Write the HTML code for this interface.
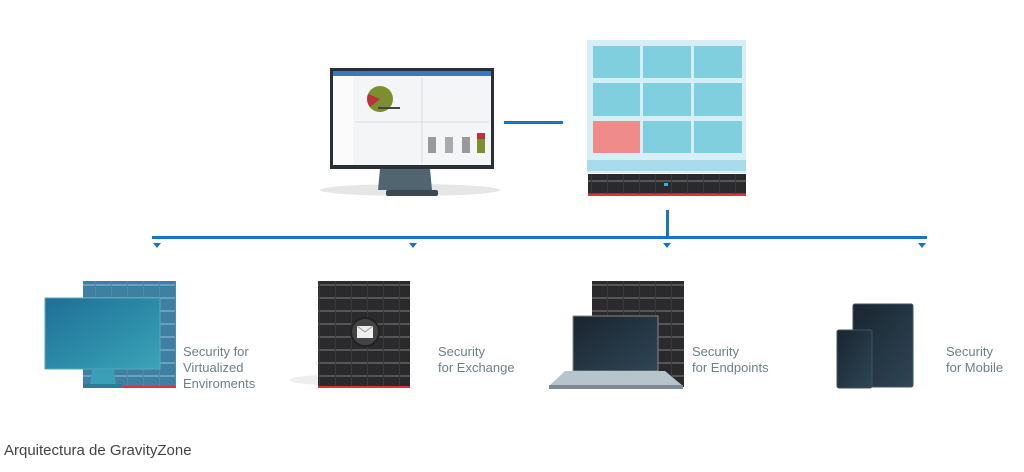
<!DOCTYPE html><html><head><style>
body{margin:0;width:1024px;height:472px;background:#fff;position:relative;overflow:hidden;font-family:"Liberation Sans",sans-serif}
.a{position:absolute}
.t{position:absolute;font-size:13px;line-height:16px;color:#6e7f8a}
</style></head><body>
<svg class="a" style="left:0;top:0" width="1024" height="472">
<defs>
<pattern id="rk" width="16" height="13" patternUnits="userSpaceOnUse"><rect width="16" height="13" fill="#2a2a2c"/><rect y="11" width="16" height="2" fill="#555"/><rect x="15" width="1" height="13" fill="#3a3a3c"/></pattern>
<pattern id="rb" width="16" height="13" patternUnits="userSpaceOnUse"><rect width="16" height="13" fill="#3f7fa2"/><rect y="11" width="16" height="2" fill="#6aa0bd"/><rect x="15" width="1" height="13" fill="#4d8aab"/></pattern>
<linearGradient id="sc" x1="0" y1="0" x2="1" y2="1"><stop offset="0" stop-color="#1a2530"/><stop offset="1" stop-color="#2e4555"/></linearGradient>
<linearGradient id="tl" x1="0" y1="0" x2="1" y2="1"><stop offset="0" stop-color="#1e6f96"/><stop offset="1" stop-color="#3aa4b8"/></linearGradient>
</defs>
<ellipse cx="410" cy="190" rx="90" ry="6" fill="#e6e6e6"/>
<rect x="330" y="68" width="164" height="101" fill="#2b3036"/>
<rect x="333" y="71" width="158" height="94" fill="#f4f5f6"/>
<rect x="333" y="71" width="158" height="5" fill="#3b78c0"/>
<rect x="333" y="76" width="20" height="89" fill="#fbfbfb"/>
<line x1="422" y1="78" x2="422" y2="163" stroke="#ddd"/><line x1="355" y1="122" x2="489" y2="122" stroke="#ddd"/>
<circle cx="380" cy="99" r="13" fill="#7a8f2e"/><path d="M380 99 L368 94 A13 13 0 0 0 370 107 Z" fill="#c0303a"/>
<rect x="378" y="107" width="22" height="2" fill="#444"/>
<rect x="428" y="137" width="8" height="16" fill="#999"/><rect x="445" y="137" width="8" height="16" fill="#aaa"/><rect x="462" y="137" width="8" height="16" fill="#999"/><rect x="477" y="133" width="8" height="20" fill="#7a8f2e"/><rect x="477" y="133" width="8" height="6" fill="#c0303a"/>
<path d="M380 169 L430 169 L432 190 L378 190 Z" fill="#506570"/>
<rect x="386" y="190" width="52" height="6" rx="2" fill="#3b4850"/>
<rect x="504" y="121" width="59" height="3" fill="#1a73c8"/>
<rect x="587" y="40" width="159" height="133" fill="#d7eef6"/>
<g fill="#7fcfdf">
<rect x="593" y="46" width="47" height="32"/><rect x="643" y="46" width="48" height="32"/><rect x="694" y="46" width="48" height="32"/>
<rect x="593" y="83" width="47" height="33"/><rect x="643" y="83" width="48" height="33"/><rect x="694" y="83" width="48" height="33"/>
<rect x="643" y="121" width="48" height="32"/><rect x="694" y="121" width="48" height="32"/></g>
<rect x="593" y="121" width="47" height="32" fill="#f08b8b"/>
<rect x="587" y="160" width="159" height="11" fill="#a8dcea"/>
<rect x="588" y="174" width="158" height="21" fill="url(#rk)"/>
<rect x="588" y="194" width="158" height="2" fill="#d33"/>
<rect x="664" y="183" width="4" height="3" fill="#3aaee0"/>
<rect x="666" y="210" width="3" height="27" fill="#1a73c8"/>
<rect x="152" y="236" width="775" height="3" fill="#1a73c8"/>
<g fill="#1a73c8"><path d="M153 243h8l-4 5z"/><path d="M409 243h8l-4 5z"/><path d="M663 243h8l-4 5z"/><path d="M918 243h8l-4 5z"/></g>
<rect x="83" y="281" width="93" height="106" fill="url(#rb)"/>
<rect x="83" y="386" width="93" height="2" fill="#d33"/>
<rect x="45" y="298" width="115" height="71" fill="url(#tl)" stroke="#5ab" />
<path d="M92 369h22l2 16h-26z" fill="#3aa0b5"/><rect x="84" y="384" width="38" height="4" fill="#2a7c95"/>
<ellipse cx="330" cy="380" rx="40" ry="5" fill="#eee"/>
<rect x="318" y="281" width="92" height="106" fill="url(#rk)"/>
<rect x="318" y="386" width="92" height="2" fill="#d33"/>
<circle cx="365" cy="332" r="14" fill="#444" stroke="#222" stroke-width="2"/>
<rect x="357" y="326" width="16" height="12" fill="#eee"/><path d="M357 326l8 6 8-6" fill="none" stroke="#999"/>
<rect x="592" y="281" width="92" height="106" fill="url(#rk)"/>
<rect x="573" y="316" width="85" height="55" fill="url(#sc)" stroke="#888"/>
<path d="M565 371h100l18 15h-134z" fill="#b8c4cc"/><rect x="549" y="385" width="134" height="4" fill="#7d8a93"/>
<rect x="853" y="304" width="60" height="83" rx="2" fill="url(#sc)" stroke="#3c5560"/>
<rect x="837" y="330" width="35" height="58" rx="2" fill="url(#sc)" stroke="#3c5560"/>
</svg>
<div class="t" style="left:183px;top:344px">Security for<br>Virtualized<br>Enviroments</div>
<div class="t" style="left:438px;top:344px">Security<br>for Exchange</div>
<div class="t" style="left:692px;top:344px">Security<br>for Endpoints</div>
<div class="t" style="left:946px;top:344px">Security<br>for Mobile</div>
<div class="a" style="left:4px;top:442px;font-size:15px;color:#444">Arquitectura de GravityZone</div>
</body></html>
